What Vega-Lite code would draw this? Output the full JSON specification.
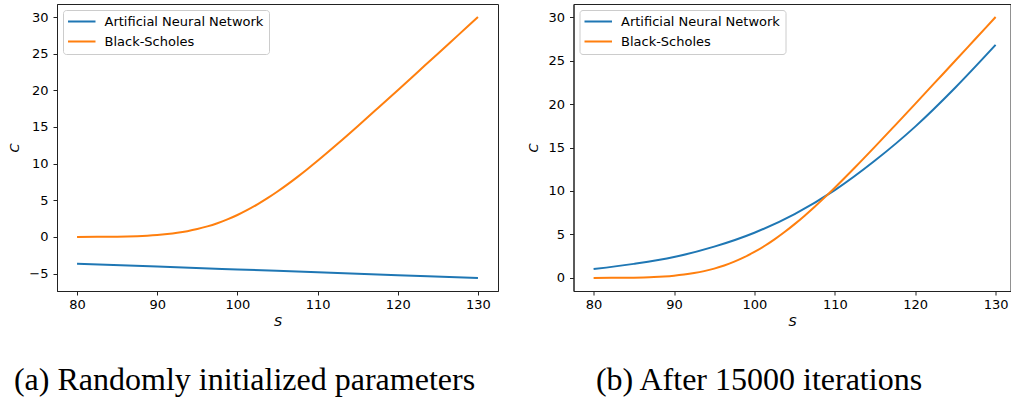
{
  "$schema": "https://vega.github.io/schema/vega-lite/v6.json",
  "padding": {"left": 8, "top": 3, "right": 0, "bottom": 0},
  "background": "white",
  "datasets": {
    "a": [
      {"S": 80, "C": -3.65, "series": "Artificial Neural Network"},
      {"S": 90, "C": -4.05, "series": "Artificial Neural Network"},
      {"S": 100, "C": -4.44, "series": "Artificial Neural Network"},
      {"S": 110, "C": -4.83, "series": "Artificial Neural Network"},
      {"S": 120, "C": -5.22, "series": "Artificial Neural Network"},
      {"S": 130, "C": -5.6, "series": "Artificial Neural Network"},
      {"S": 80, "C": 0.003, "series": "Black-Scholes"},
      {"S": 82.5, "C": 0.011, "series": "Black-Scholes"},
      {"S": 83.75, "C": 0.02, "series": "Black-Scholes"},
      {"S": 85, "C": 0.037, "series": "Black-Scholes"},
      {"S": 86.25, "C": 0.064, "series": "Black-Scholes"},
      {"S": 87.5, "C": 0.105, "series": "Black-Scholes"},
      {"S": 88.75, "C": 0.168, "series": "Black-Scholes"},
      {"S": 90, "C": 0.257, "series": "Black-Scholes"},
      {"S": 91.25, "C": 0.386, "series": "Black-Scholes"},
      {"S": 92.5, "C": 0.558, "series": "Black-Scholes"},
      {"S": 93.75, "C": 0.783, "series": "Black-Scholes"},
      {"S": 95, "C": 1.073, "series": "Black-Scholes"},
      {"S": 96.25, "C": 1.433, "series": "Black-Scholes"},
      {"S": 97.5, "C": 1.871, "series": "Black-Scholes"},
      {"S": 98.75, "C": 2.389, "series": "Black-Scholes"},
      {"S": 100, "C": 2.99, "series": "Black-Scholes"},
      {"S": 101.25, "C": 3.677, "series": "Black-Scholes"},
      {"S": 102.5, "C": 4.442, "series": "Black-Scholes"},
      {"S": 103.75, "C": 5.282, "series": "Black-Scholes"},
      {"S": 105, "C": 6.192, "series": "Black-Scholes"},
      {"S": 106.25, "C": 7.166, "series": "Black-Scholes"},
      {"S": 107.5, "C": 8.193, "series": "Black-Scholes"},
      {"S": 108.75, "C": 9.267, "series": "Black-Scholes"},
      {"S": 110, "C": 10.38, "series": "Black-Scholes"},
      {"S": 112.5, "C": 12.7, "series": "Black-Scholes"},
      {"S": 115, "C": 15.1, "series": "Black-Scholes"},
      {"S": 117.5, "C": 17.55, "series": "Black-Scholes"},
      {"S": 120, "C": 20.02, "series": "Black-Scholes"},
      {"S": 122.5, "C": 22.51, "series": "Black-Scholes"},
      {"S": 125, "C": 25.0, "series": "Black-Scholes"},
      {"S": 127.5, "C": 27.5, "series": "Black-Scholes"},
      {"S": 130, "C": 30.0, "series": "Black-Scholes"}
    ],
    "b": [
      {"S": 80, "C": 1.03, "series": "Artificial Neural Network"},
      {"S": 85, "C": 1.62, "series": "Artificial Neural Network"},
      {"S": 90, "C": 2.4, "series": "Artificial Neural Network"},
      {"S": 95, "C": 3.6, "series": "Artificial Neural Network"},
      {"S": 100, "C": 5.2, "series": "Artificial Neural Network"},
      {"S": 105, "C": 7.35, "series": "Artificial Neural Network"},
      {"S": 110, "C": 10.1, "series": "Artificial Neural Network"},
      {"S": 115, "C": 13.5, "series": "Artificial Neural Network"},
      {"S": 120, "C": 17.4, "series": "Artificial Neural Network"},
      {"S": 125, "C": 21.9, "series": "Artificial Neural Network"},
      {"S": 130, "C": 26.8, "series": "Artificial Neural Network"},
      {"S": 80, "C": 0.003, "series": "Black-Scholes"},
      {"S": 82.5, "C": 0.011, "series": "Black-Scholes"},
      {"S": 83.75, "C": 0.02, "series": "Black-Scholes"},
      {"S": 85, "C": 0.037, "series": "Black-Scholes"},
      {"S": 86.25, "C": 0.064, "series": "Black-Scholes"},
      {"S": 87.5, "C": 0.105, "series": "Black-Scholes"},
      {"S": 88.75, "C": 0.168, "series": "Black-Scholes"},
      {"S": 90, "C": 0.257, "series": "Black-Scholes"},
      {"S": 91.25, "C": 0.386, "series": "Black-Scholes"},
      {"S": 92.5, "C": 0.558, "series": "Black-Scholes"},
      {"S": 93.75, "C": 0.783, "series": "Black-Scholes"},
      {"S": 95, "C": 1.073, "series": "Black-Scholes"},
      {"S": 96.25, "C": 1.433, "series": "Black-Scholes"},
      {"S": 97.5, "C": 1.871, "series": "Black-Scholes"},
      {"S": 98.75, "C": 2.389, "series": "Black-Scholes"},
      {"S": 100, "C": 2.99, "series": "Black-Scholes"},
      {"S": 101.25, "C": 3.677, "series": "Black-Scholes"},
      {"S": 102.5, "C": 4.442, "series": "Black-Scholes"},
      {"S": 103.75, "C": 5.282, "series": "Black-Scholes"},
      {"S": 105, "C": 6.192, "series": "Black-Scholes"},
      {"S": 106.25, "C": 7.166, "series": "Black-Scholes"},
      {"S": 107.5, "C": 8.193, "series": "Black-Scholes"},
      {"S": 108.75, "C": 9.267, "series": "Black-Scholes"},
      {"S": 110, "C": 10.38, "series": "Black-Scholes"},
      {"S": 112.5, "C": 12.7, "series": "Black-Scholes"},
      {"S": 115, "C": 15.1, "series": "Black-Scholes"},
      {"S": 117.5, "C": 17.55, "series": "Black-Scholes"},
      {"S": 120, "C": 20.02, "series": "Black-Scholes"},
      {"S": 122.5, "C": 22.51, "series": "Black-Scholes"},
      {"S": 125, "C": 25.0, "series": "Black-Scholes"},
      {"S": 127.5, "C": 27.5, "series": "Black-Scholes"},
      {"S": 130, "C": 30.0, "series": "Black-Scholes"}
    ]
  },
  "spacing": 27.5,
  "resolve": {
    "scale": {"x": "independent", "y": "independent", "color": "independent"},
    "legend": {"color": "independent"}
  },
  "hconcat": [
    {
      "width": 441,
      "height": 287,
      "data": {"name": "a"},
      "title": {"text": "(a) Randomly initialized parameters", "dx": -33},
      "mark": {"type": "line", "strokeWidth": 2, "interpolate": "monotone"},
      "encoding": {
        "x": {"field": "S", "type": "quantitative", "title": "S",
              "scale": {"domain": [77.5, 132.5], "nice": false, "zero": false},
              "axis": {"values": [80, 90, 100, 110, 120, 130]}},
        "y": {"field": "C", "type": "quantitative", "title": "C",
              "scale": {"domain": [-7.38, 31.78], "nice": false, "zero": false},
              "axis": {"values": [-5, 0, 5, 10, 15, 20, 25, 30]}},
        "color": {"field": "series", "type": "nominal",
                  "scale": {"domain": ["Artificial Neural Network", "Black-Scholes"], "range": ["#1f77b4", "#ff7f0e"]},
                  "legend": {"title": null}}
      }
    },
    {
      "width": 437,
      "height": 287,
      "data": {"name": "b"},
      "title": {"text": "(b) After 15000 iterations", "dx": -33},
      "mark": {"type": "line", "strokeWidth": 2, "interpolate": "monotone"},
      "encoding": {
        "x": {"field": "S", "type": "quantitative", "title": "S",
              "scale": {"domain": [77.5, 131.85], "nice": false, "zero": false},
              "axis": {"values": [80, 90, 100, 110, 120, 130]}},
        "y": {"field": "C", "type": "quantitative", "title": "C",
              "scale": {"domain": [-1.5, 31.5], "nice": false, "zero": false},
              "axis": {"values": [0, 5, 10, 15, 20, 25, 30]}},
        "color": {"field": "series", "type": "nominal",
                  "scale": {"domain": ["Artificial Neural Network", "Black-Scholes"], "range": ["#1f77b4", "#ff7f0e"]},
                  "legend": {"title": null}}
      }
    }
  ],
  "config": {
    "view": {"stroke": "#222222", "strokeWidth": 1},
    "axis": {
      "grid": false,
      "domainColor": "#222222",
      "domainWidth": 1,
      "tickColor": "#222222",
      "tickSize": 4,
      "tickWidth": 1,
      "labelColor": "#000000",
      "labelFont": "DejaVu Sans",
      "labelFontSize": 13,
      "labelPadding": 5,
      "titleFont": "DejaVu Sans",
      "titleFontSize": 13,
      "titleFontStyle": "italic",
      "titleFontWeight": "normal",
      "titleColor": "#000000",
      "titlePadding": 7
    },
    "axisX": {"labelPadding": 3, "titlePadding": 4},
    "legend": {
      "orient": "top-left",
      "offset": 6,
      "symbolType": "stroke",
      "symbolStrokeWidth": 2,
      "symbolSize": 784,
      "symbolOffset": -1.5,
      "clipHeight": 13,
      "labelFont": "DejaVu Sans",
      "labelFontSize": 13,
      "labelColor": "#000000",
      "labelOffset": 8,
      "fillColor": "#ffffff",
      "strokeColor": "#cccccc",
      "cornerRadius": 3,
      "padding": 5,
      "rowPadding": 6
    },
    "title": {
      "orient": "bottom",
      "anchor": "middle",
      "font": "Liberation Serif",
      "fontSize": 32,
      "fontWeight": "normal",
      "color": "#000000",
      "offset": 37
    }
  }
}
